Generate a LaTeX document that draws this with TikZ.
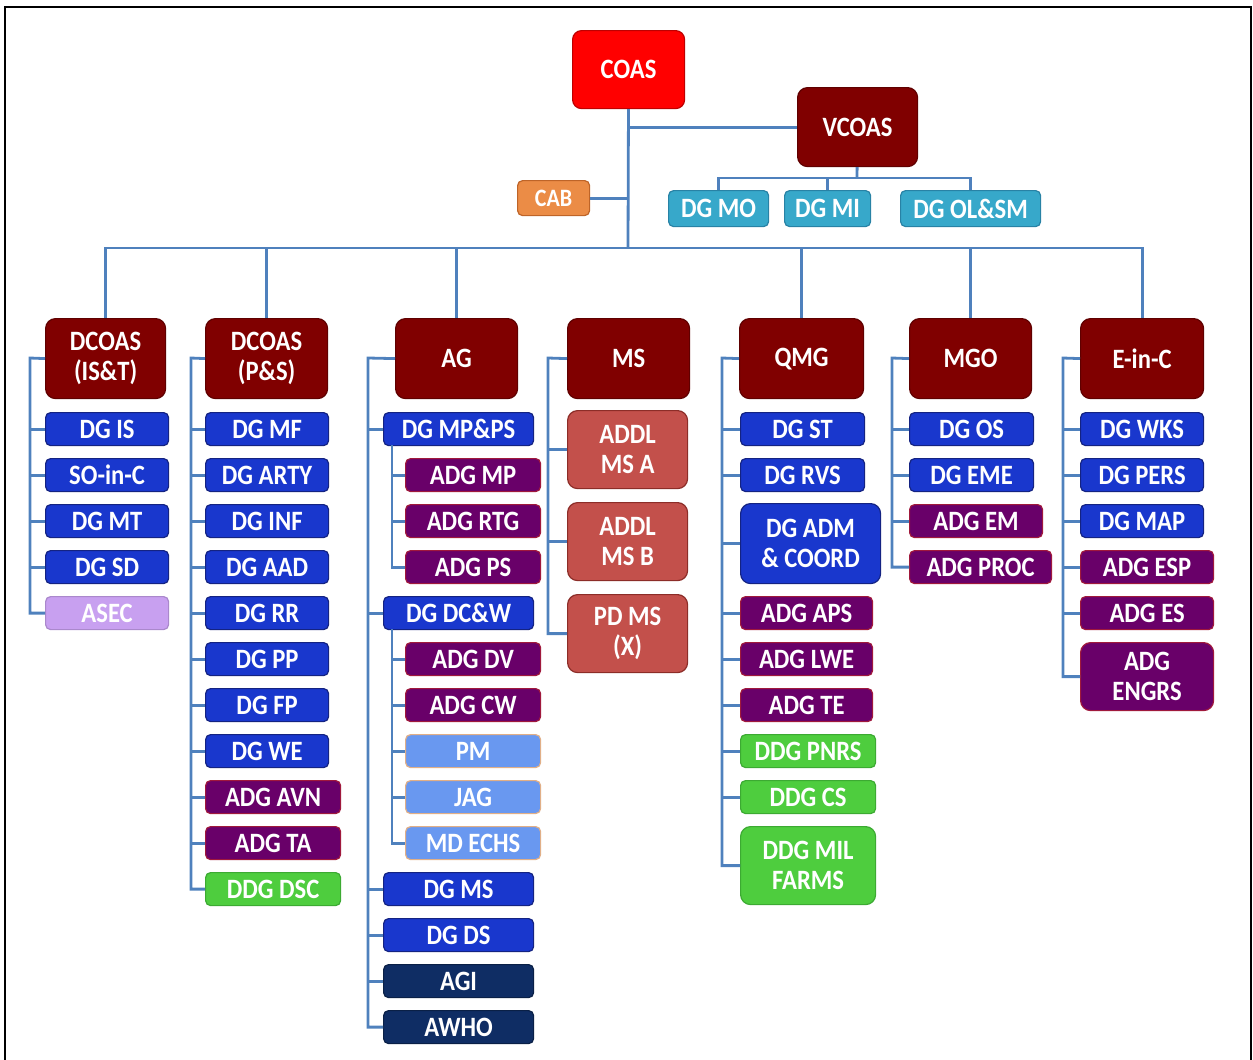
\documentclass[tikz,border=0pt]{standalone}
\usepackage{fontspec}
\usepackage{tikz}
\newfontfamily\orgfont[FakeStretch=0.88]{Carlito}
\newcommand{\orgtext}{\orgfont\bfseries\fontsize{28}{30}\selectfont}
\definecolor{linkblue}{RGB}{79,129,189}
\definecolor{headred}{RGB}{128,0,0}
\definecolor{headline}{RGB}{95,0,0}
\definecolor{coasred}{RGB}{255,0,0}
\definecolor{coasline}{RGB}{190,0,0}
\definecolor{cabfill}{RGB}{235,140,70}
\definecolor{cabline}{RGB}{190,100,40}
\definecolor{tealfill}{RGB}{55,168,202}
\definecolor{tealline}{RGB}{40,130,165}
\definecolor{dgblue}{RGB}{25,55,205}
\definecolor{dgline}{RGB}{20,35,130}
\definecolor{adgpurple}{RGB}{105,0,105}
\definecolor{adgline}{RGB}{160,25,60}
\definecolor{asecfill}{RGB}{200,160,240}
\definecolor{ddggreen}{RGB}{78,205,62}
\definecolor{ddgline}{RGB}{60,170,50}
\definecolor{ltblue}{RGB}{105,152,240}
\definecolor{ltline}{RGB}{225,175,135}
\definecolor{navy}{RGB}{15,45,100}
\definecolor{salmon}{RGB}{195,80,75}
\definecolor{salmonline}{RGB}{140,45,40}

\begin{document}
\begin{tikzpicture}[x=1pt, y=-1pt]
  \tikzstyle{box}=[rectangle, rounded corners=5pt, line width=1.2pt, text=white, font=\orgtext, anchor=north west, align=center, inner sep=0pt, minimum height=33]
  \tikzstyle{head}=[box, rounded corners=10pt, fill=headred, draw=headline, minimum width=122, minimum height=80]
  \tikzstyle{dg}=[box, fill=dgblue, draw=dgline, minimum width=123]
  \tikzstyle{adg}=[box, fill=adgpurple, draw=adgline, minimum width=135]
  \tikzstyle{ddg}=[box, fill=ddggreen, draw=ddgline, minimum width=135]
  \tikzstyle{lt}=[box, fill=ltblue, draw=ltline, minimum width=135]
  \tikzstyle{nv}=[box, fill=navy, draw=navy!70!black, minimum width=150]
  \tikzstyle{addl}=[box, rounded corners=10pt, fill=salmon, draw=salmonline, minimum width=120, minimum height=78]
  \tikzstyle{vdg}=[box, fill=tealfill, draw=tealline, minimum height=36]
  \tikzstyle{connect}=[line width=2.8pt, draw=linkblue]
  \useasboundingbox (0,0) rectangle (1253,1060);
  \draw[line width=2pt] (5,1060) -- (5,7) -- (1251,7) -- (1251,1060);

    \node[box, rounded corners=9pt, fill=coasred, draw=coasline, minimum width=112, minimum height=78] (coas) at (572,30) {COAS};
    \node[head, minimum width=120, minimum height=79] (vcoas) at (797,87) {VCOAS};
    \node[box, fill=cabfill, draw=cabline, minimum width=72, minimum height=35, font=\orgfont\bfseries\fontsize{25}{26}\selectfont] (cab) at (517,180) {CAB};
    \node[vdg, minimum width=100] (dgmo) at (668,190) {DG MO};
    \node[vdg, minimum width=86] (dgmi) at (784,190) {DG MI};
    \node[vdg, minimum width=140] (dgolsm) at (900,190) {DG OL\&SM};

    \node[head, minimum width=120] (dcoasa) at (45,318) {DCOAS\\(IS\&T)};
    \node[head] (dcoasb) at (205,318) {DCOAS\\(P\&S)};
    \node[head] (ag) at (395,318) {AG};
    \node[head] (ms) at (567,318) {MS};
    \node[head, minimum width=124] (qmg) at (739,318) {QMG};
    \node[head] (mgo) at (909,318) {MGO};
    \node[head, minimum width=123] (einc) at (1080,318) {E-in-C};

    \node[dg] (dgis) at (45,412) {DG IS};
    \node[dg] (soinc) at (45,458) {SO-in-C};
    \node[dg] (dgmt) at (45,504) {DG MT};
    \node[dg] (dgsd) at (45,550) {DG SD};
    \node[box, fill=asecfill, draw=asecfill!85!black, minimum width=123] (asec) at (45,596) {ASEC};

    \node[dg] (dgmf) at (205,412) {DG MF};
    \node[dg] (dgarty) at (205,458) {DG ARTY};
    \node[dg] (dginf) at (205,504) {DG INF};
    \node[dg] (dgaad) at (205,550) {DG AAD};
    \node[dg] (dgrr) at (205,596) {DG RR};
    \node[dg] (dgpp) at (205,642) {DG PP};
    \node[dg] (dgfp) at (205,688) {DG FP};
    \node[dg] (dgwe) at (205,734) {DG WE};
    \node[adg] (adgavn) at (205,780) {ADG AVN};
    \node[adg] (adgta) at (205,826) {ADG TA};
    \node[ddg] (ddgdsc) at (205,872) {DDG DSC};

    \node[dg, minimum width=150] (dgmpps) at (383,412) {DG MP\&PS};
    \node[adg] (adgmp) at (405,458) {ADG MP};
    \node[adg] (adgrtg) at (405,504) {ADG RTG};
    \node[adg] (adgps) at (405,550) {ADG PS};
    \node[dg, minimum width=150] (dgdcw) at (383,596) {DG DC\&W};
    \node[adg] (adgdv) at (405,642) {ADG DV};
    \node[adg] (adgcw) at (405,688) {ADG CW};
    \node[lt] (pm) at (405,734) {PM};
    \node[lt] (jag) at (405,780) {JAG};
    \node[lt] (mdechs) at (405,826) {MD ECHS};
    \node[dg, minimum width=150] (dgms) at (383,872) {DG MS};
    \node[dg, minimum width=150] (dgds) at (383,918) {DG DS};
    \node[nv] (agi) at (383,964) {AGI};
    \node[nv] (awho) at (383,1010) {AWHO};

    \node[addl] (addla) at (567,410) {ADDL\\MS A};
    \node[addl] (addlb) at (567,502) {ADDL\\MS B};
    \node[addl] (pdms) at (567,594) {PD MS\\(X)};

    \node[dg, minimum width=124] (dgst) at (740,412) {DG ST};
    \node[dg, minimum width=124] (dgrvs) at (740,458) {DG RVS};
    \node[dg, rounded corners=10pt, minimum width=140, minimum height=80] (dgadm) at (740,503) {DG ADM\\\& COORD};
    \node[adg, minimum width=132] (adgaps) at (740,596) {ADG APS};
    \node[adg, minimum width=132] (adglwe) at (740,642) {ADG LWE};
    \node[adg, minimum width=132] (adgte) at (740,688) {ADG TE};
    \node[ddg] (ddgpnrs) at (740,734) {DDG PNRS};
    \node[ddg] (ddgcs) at (740,780) {DDG CS};
    \node[ddg, rounded corners=10pt, minimum height=78] (ddgmil) at (740,826) {DDG MIL\\FARMS};

    \node[dg, minimum width=124] (dgos) at (909,412) {DG OS};
    \node[dg, minimum width=124] (dgeme) at (909,458) {DG EME};
    \node[adg, minimum width=133] (adgem) at (909,504) {ADG EM};
    \node[adg, minimum width=142] (adgproc) at (909,550) {ADG PROC};

    \node[dg] (dgwks) at (1080,412) {DG WKS};
    \node[dg] (dgpers) at (1080,458) {DG PERS};
    \node[dg] (dgmap) at (1080,504) {DG MAP};
    \node[adg, minimum width=133] (adgesp) at (1080,550) {ADG ESP};
    \node[adg, minimum width=133] (adges) at (1080,596) {ADG ES};
    \node[adg, rounded corners=10pt, minimum width=133, minimum height=68] (adgengrs) at (1080,642) {ADG\\ENGRS};

    \coordinate (bus) at (628,248);
    \coordinate (vbus) at (857,178);
    \coordinate (l1) at (30,358);
    \coordinate (l2) at (191,358);
    \coordinate (l3) at (368,358);
    \coordinate (s1) at (392,445);
    \coordinate (s2) at (392,629);
    \coordinate (l4) at (548,358);
    \coordinate (l5) at (722,358);
    \coordinate (l6) at (892,358);
    \coordinate (l7) at (1063,358);

    \draw[connect] (coas) -- (bus);
    \draw[connect] (vcoas.west) -- (vcoas.west -| coas.south);
    \draw[connect] (cab.east) -- (cab.east -| coas.south);
    \draw[connect] (vcoas) -- (vbus);
    \draw[connect] (dgmo) |- (vbus) -| (dgolsm);
    \draw[connect] (dgmi) -- (dgmi |- vbus);
    \draw[connect] (dcoasa) |- (bus) -| (einc);
    \draw[connect] (dcoasb) -- (dcoasb |- bus) (ag) -- (ag |- bus) (qmg) -- (qmg |- bus)
          (mgo) -- (mgo |- bus);

    \draw[connect] (dcoasa.west) -- (l1) |- (asec.west);
    \draw[connect] (l1) |- (dgis.west) (l1) |- (soinc.west) (l1) |- (dgmt.west) (l1) |- (dgsd.west);

    \draw[connect] (dcoasb.west) -- (l2) |- (ddgdsc.west);
    \draw[connect] (l2) |- (dgmf.west) (l2) |- (dgarty.west) (l2) |- (dginf.west) (l2) |- (dgaad.west)
          (l2) |- (dgrr.west) (l2) |- (dgpp.west) (l2) |- (dgfp.west) (l2) |- (dgwe.west)
          (l2) |- (adgavn.west) (l2) |- (adgta.west);

    \draw[connect] (ag.west) -- (l3) |- (awho.west);
    \draw[connect] (l3) |- (dgmpps.west) (l3) |- (dgdcw.west) (l3) |- (dgms.west) (l3) |- (dgds.west)
          (l3) |- (agi.west);
    \draw[connect] (s1) |- (adgps.west) (s1) |- (adgmp.west) (s1) |- (adgrtg.west);
    \draw[connect] (s2) |- (mdechs.west) (s2) |- (adgdv.west) (s2) |- (adgcw.west) (s2) |- (pm.west)
          (s2) |- (jag.west);

    \draw[connect] (ms.west) -- (l4) |- (pdms.west);
    \draw[connect] (l4) |- (addla.west) (l4) |- (addlb.west);

    \draw[connect] (qmg.west) -- (l5) |- (ddgmil.west);
    \draw[connect] (l5) |- (dgst.west) (l5) |- (dgrvs.west) (l5) |- (dgadm.west) (l5) |- (adgaps.west)
          (l5) |- (adglwe.west) (l5) |- (adgte.west) (l5) |- (ddgpnrs.west) (l5) |- (ddgcs.west);

    \draw[connect] (mgo.west) -- (l6) |- (adgproc.west);
    \draw[connect] (l6) |- (dgos.west) (l6) |- (dgeme.west) (l6) |- (adgem.west);

    \draw[connect] (einc.west) -- (l7) |- (adgengrs.west);
    \draw[connect] (l7) |- (dgwks.west) (l7) |- (dgpers.west) (l7) |- (dgmap.west) (l7) |- (adgesp.west)
          (l7) |- (adges.west);
  \end{tikzpicture}
\end{document}
